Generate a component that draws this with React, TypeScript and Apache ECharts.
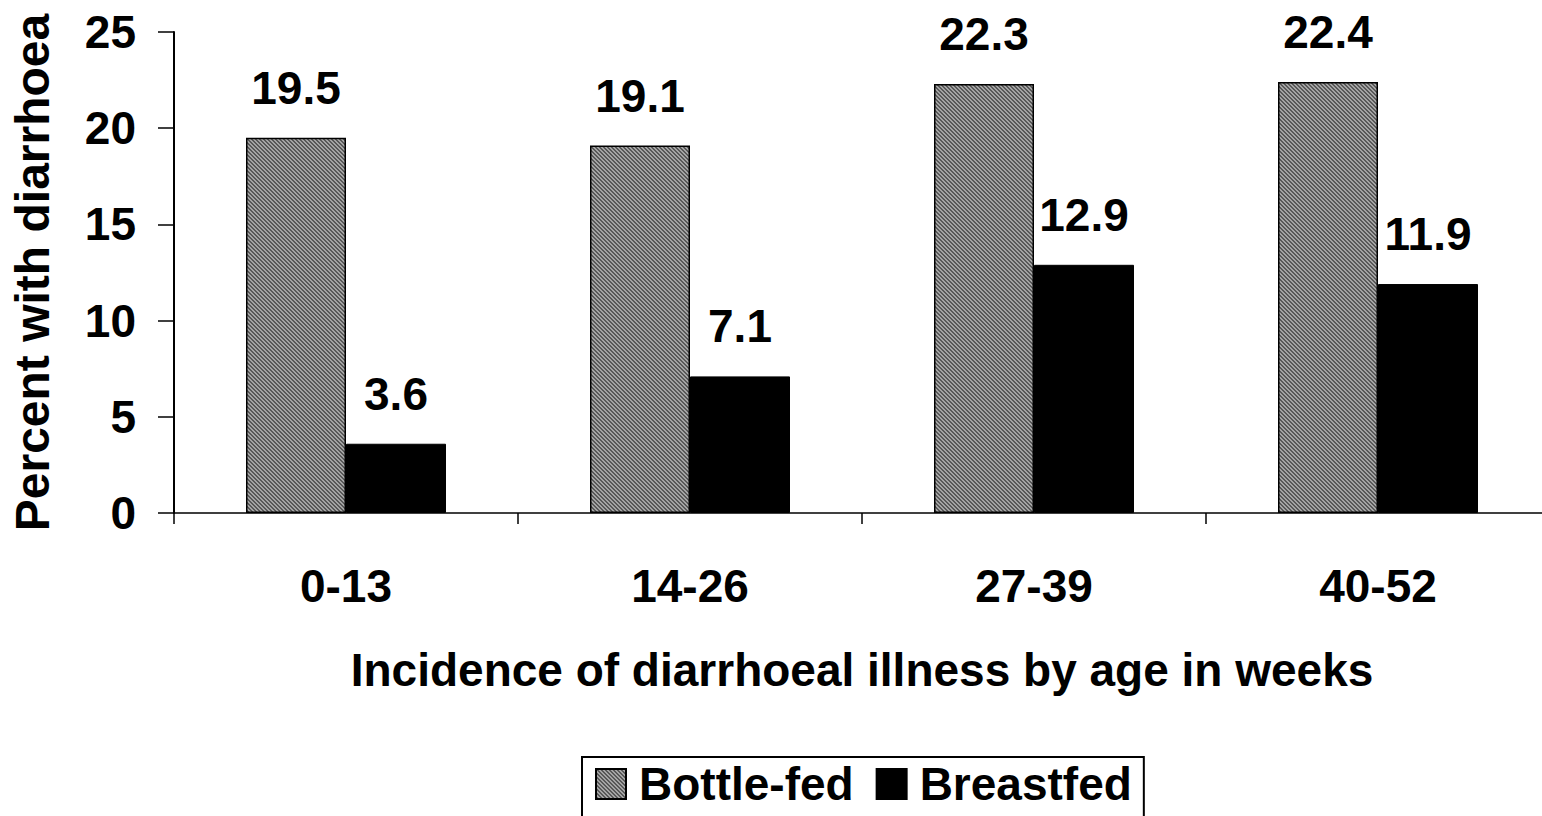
import React, { useEffect, useRef } from "react";
import * as echarts from "echarts";

const categories = ["0-13", "14-26", "27-39", "40-52"];
const bottleFed = [19.5, 19.1, 22.3, 22.4];
const breastfed = [3.6, 7.1, 12.9, 11.9];
const seriesNames = ["Bottle-fed", "Breastfed"];
const xTitle = "Incidence of diarrhoeal illness by age in weeks";
const yTitle = "Percent with diarrhoea";

const FONT = "'Liberation Sans', Arial, Helvetica, sans-serif";

function makePattern(): HTMLCanvasElement {
  const c = document.createElement("canvas");
  c.width = 4;
  c.height = 4;
  const ctx = c.getContext("2d")!;
  ctx.fillStyle = "#a4a4a4";
  ctx.fillRect(0, 0, 4, 4);
  ctx.fillStyle = "#585858";
  for (let y = 0; y < 4; y++) {
    for (let x = 0; x < 4; x++) {
      const d = (((x - y) % 4) + 4) % 4;
      if (d === 0 || d === 1) ctx.fillRect(x, y, 1, 1);
    }
  }
  return c;
}

export default function App() {
  const ref = useRef<HTMLDivElement>(null);
  useEffect(() => {
    if (!ref.current) return;
    const chart = echarts.init(ref.current, undefined, { renderer: "svg" });
    const pattern = { image: makePattern(), repeat: "repeat" } as any;
    const labelStyle = {
      show: true,
      position: "top" as const,
      distance: 27,
      fontSize: 46,
      fontWeight: "bold" as const,
      fontFamily: FONT,
      color: "#000",
    };
    chart.setOption({
      animation: false,
      backgroundColor: "#fff",
      textStyle: { fontFamily: FONT },
      grid: { left: 174, top: 32, width: 1376, height: 481, containLabel: false },
      legend: {
        left: 582,
        top: 757,
        orient: "horizontal",
        padding: [4, 12, 24, 13],
        borderColor: "#000",
        borderWidth: 2,
        itemGap: 22,
        itemWidth: 30,
        itemHeight: 30,
        icon: "rect",
        textStyle: {
          fontSize: 46,
          fontWeight: "bold",
          fontFamily: FONT,
          color: "#000",
          padding: [0, 0, 0, 8],
        },
        data: seriesNames,
      },
      xAxis: {
        type: "category",
        data: categories,
        boundaryGap: true,
        axisLine: { lineStyle: { color: "#000", width: 1.5 } },
        axisTick: { show: true, length: 11, lineStyle: { color: "#000", width: 1.5 } },
        axisLabel: {
          margin: 50,
          fontSize: 46,
          fontWeight: "bold",
          fontFamily: FONT,
          color: "#000",
        },
        name: xTitle,
        nameLocation: "middle",
        nameGap: 134,
        nameTextStyle: {
          fontSize: 46,
          fontWeight: "bold",
          fontFamily: FONT,
          color: "#000",
        },
        splitLine: { show: false },
      },
      yAxis: {
        type: "value",
        min: 0,
        max: 25,
        interval: 5,
        axisLine: { show: true, lineStyle: { color: "#000", width: 2 } },
        axisTick: { show: true, length: 16, lineStyle: { color: "#000", width: 1.5 } },
        axisLabel: {
          margin: 38,
          fontSize: 46,
          fontWeight: "bold",
          fontFamily: FONT,
          color: "#000",
        },
        splitLine: { show: false },
        name: yTitle,
        nameLocation: "middle",
        nameGap: 118,
        nameRotate: 90,
        nameTextStyle: {
          fontSize: 48,
          fontWeight: "bold",
          fontFamily: FONT,
          color: "#000",
        },
      },
      series: [
        {
          name: seriesNames[0],
          type: "bar",
          data: bottleFed,
          barWidth: 100,
          barGap: "0%",
          itemStyle: { color: pattern, borderColor: "#000", borderWidth: 1.5 },
          label: labelStyle,
        },
        {
          name: seriesNames[1],
          type: "bar",
          data: breastfed,
          barWidth: 100,
          barGap: "0%",
          itemStyle: { color: "#000", borderColor: "#000", borderWidth: 1 },
          label: labelStyle,
        },
      ],
    });
    return () => chart.dispose();
  }, []);
  return (
    <div
      style={{
        position: "absolute",
        left: 0,
        top: 0,
        width: 1542,
        height: 816,
        overflow: "hidden",
        background: "#fff",
      }}
    >
      <div ref={ref} style={{ width: 1570, height: 826 }} />
    </div>
  );
}
